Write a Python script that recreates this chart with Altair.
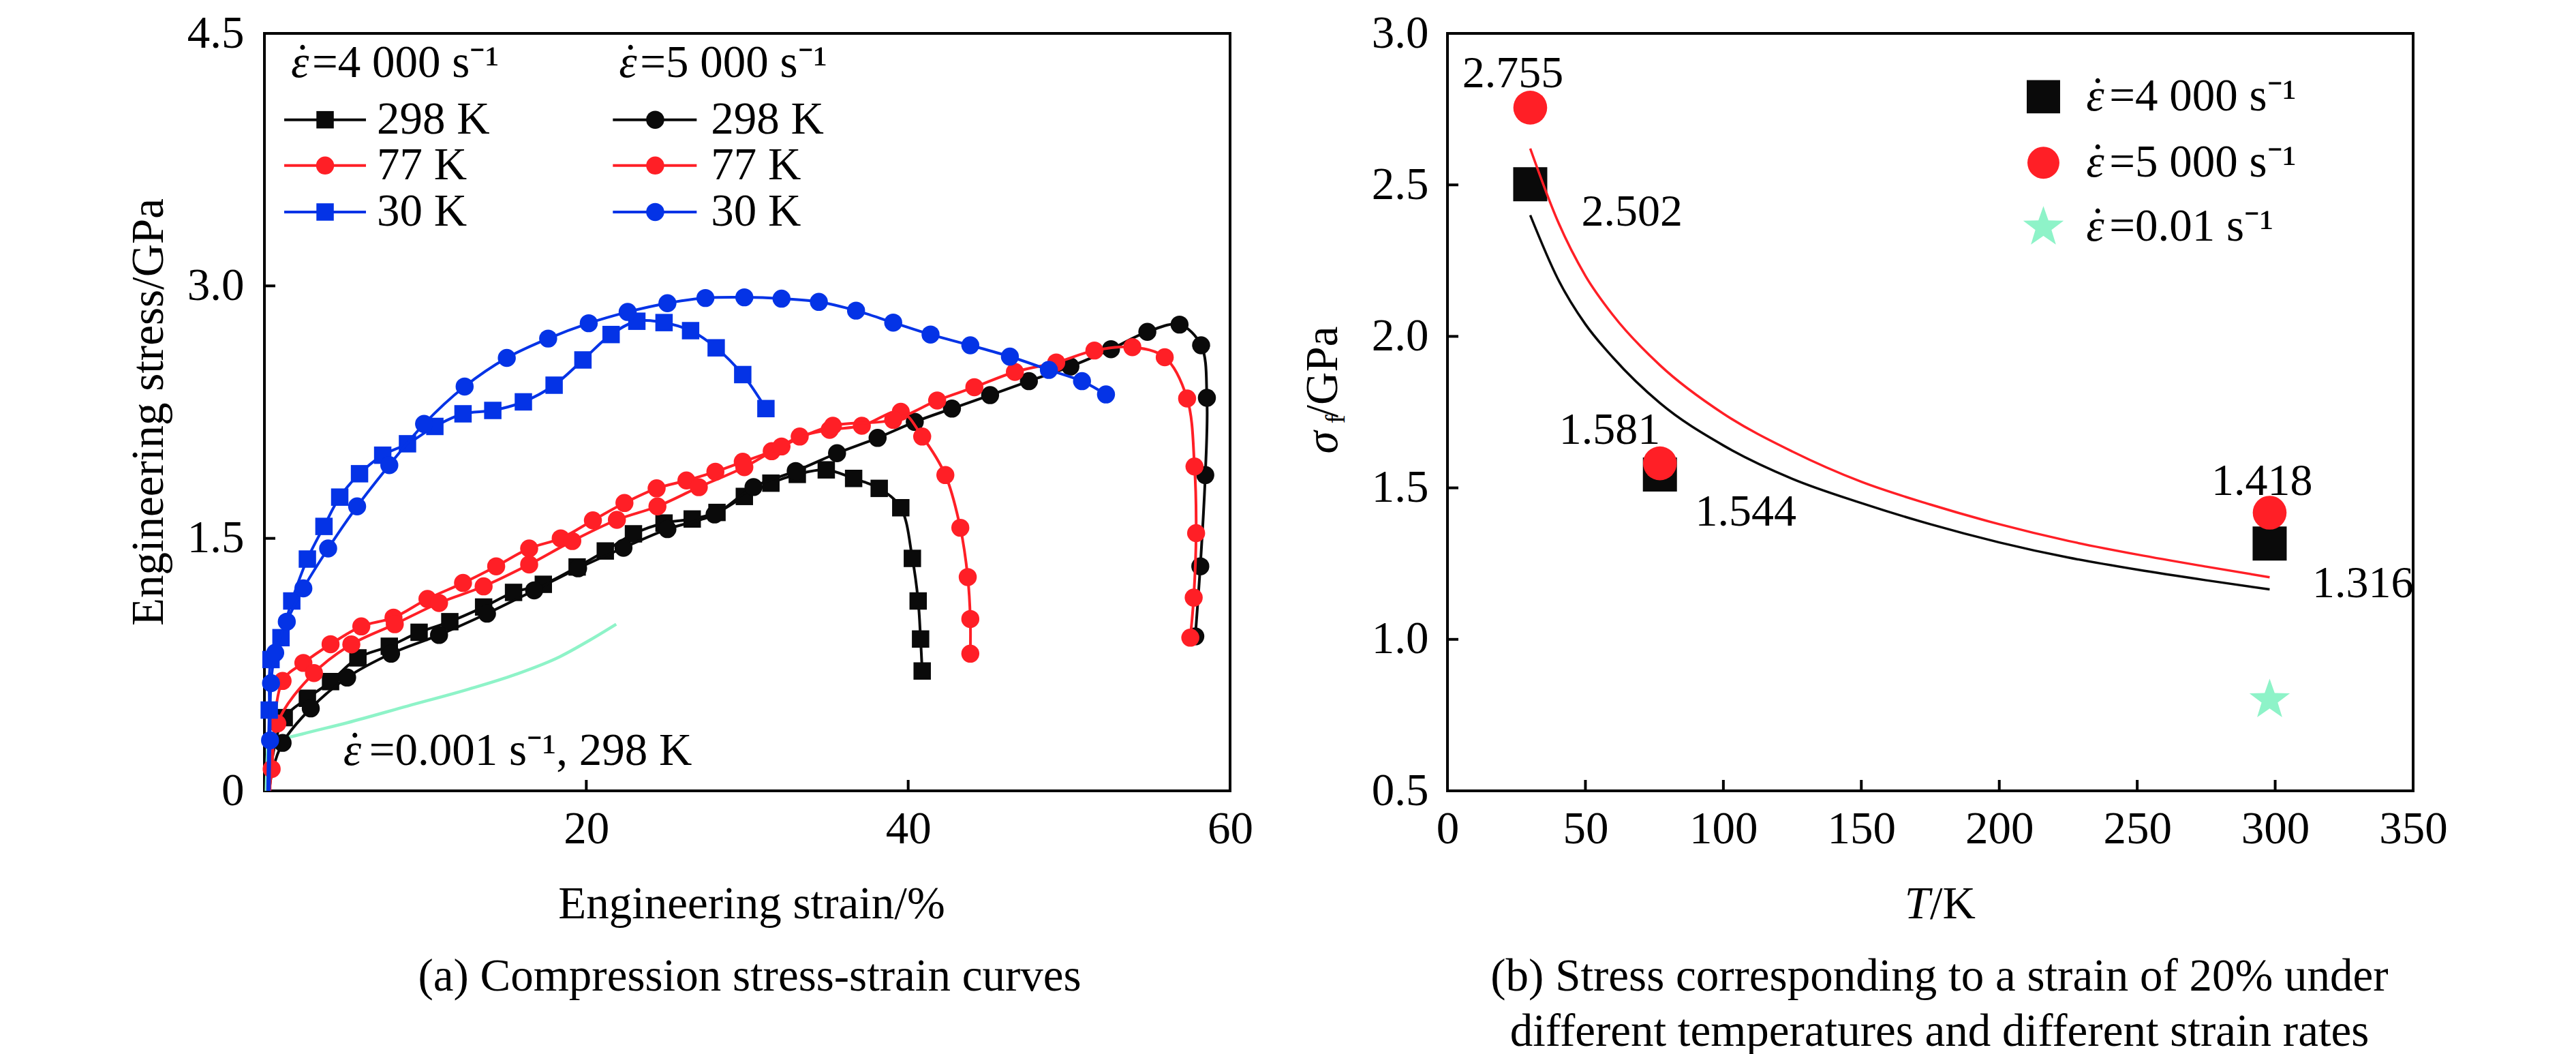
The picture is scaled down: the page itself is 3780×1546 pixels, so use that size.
import altair as alt
import pandas as pd

FONT = "Liberation Serif"
FS = 67
W = 1417
H = 1111
BLACK = "#0a0a0a"
RED = "#ff1f26"
BLUE = "#0433e6"
GREEN = "#8ef3c8"

# ---------------- Panel (a): stress-strain curves ----------------
# 4000 s-1, 298 K (squares)
b4_x = [0.3, 0.6, 1.23, 2.67, 4.11, 5.81, 7.76, 9.61, 11.52, 13.62, 15.48, 17.33, 19.43, 21.18,
        22.93, 24.83, 26.58, 28.12, 29.82, 31.47, 33.11, 34.91, 36.61, 38.2, 39.54, 40.26,
        40.62, 40.77, 40.87]
b4_y = [0.0, 0.25, 0.435, 0.55, 0.649, 0.79, 0.859, 0.942, 1.005, 1.092, 1.179, 1.227, 1.33, 1.425,
        1.527, 1.591, 1.615, 1.654, 1.749, 1.828, 1.88, 1.907, 1.856, 1.797, 1.682, 1.381,
        1.128, 0.902, 0.712]
# 5000 s-1, 298 K (circles)
b5_x = [0.3, 0.5, 1.13, 2.88, 5.14, 7.87, 10.85, 13.83, 16.76, 19.49, 22.31, 25.04, 27.97, 30.39,
        33.01, 35.58, 38.1, 40.41, 42.72, 45.09, 47.5, 50.08, 52.6, 54.86, 56.86, 58.2, 58.56,
        58.46, 58.15, 57.84]
b5_y = [0.0, 0.12, 0.285, 0.49, 0.673, 0.815, 0.926, 1.053, 1.191, 1.322, 1.444, 1.555, 1.642, 1.805,
        1.9, 2.006, 2.097, 2.192, 2.271, 2.351, 2.434, 2.521, 2.624, 2.727, 2.77, 2.647, 2.335,
        1.876, 1.334, 0.918]
# 4000 s-1, 77 K (circles)
r4_x = [0.3, 0.45, 1.13, 2.42, 4.11, 6.02, 8.02, 10.13, 12.34, 14.40, 16.45, 18.41, 20.41, 22.37,
        24.37, 26.22, 28.02, 29.72, 31.52, 33.26, 35.12, 37.12, 39.54, 40.87, 42.31, 43.24,
        43.7, 43.86, 43.86]
r4_y = [0.0, 0.13, 0.653, 0.76, 0.871, 0.977, 1.029, 1.14, 1.235, 1.334, 1.44, 1.50, 1.607, 1.71,
        1.797, 1.844, 1.896, 1.955, 2.018, 2.105, 2.145, 2.169, 2.252, 2.105, 1.876, 1.563,
        1.27, 1.021, 0.815]
# 5000 s-1, 77 K (circles)
r5_x = [0.35, 0.8, 3.08, 5.40, 8.1, 10.85, 13.62, 16.45, 19.13, 21.9, 24.42, 26.99, 29.82, 32.13,
        35.32, 39.07, 41.8, 44.11, 46.63, 49.2, 51.57, 53.93, 55.94, 57.33, 57.79, 57.89,
        57.74, 57.53]
r5_y = [0.0, 0.40, 0.70, 0.87, 0.99, 1.116, 1.215, 1.345, 1.484, 1.61, 1.69, 1.804, 1.923, 2.046,
        2.169, 2.204, 2.319, 2.398, 2.489, 2.545, 2.616, 2.636, 2.576, 2.331, 1.927, 1.531,
        1.148, 0.91]
# 4000 s-1, 30 K (squares)
u4_x = [0.2, 0.3, 0.41, 1.03, 1.70, 2.67, 3.70, 4.68, 5.91, 7.35, 8.89, 10.59, 12.34, 14.19,
        16.09, 18.0, 19.79, 21.54, 23.14, 24.83, 26.48, 28.07, 29.72, 31.16]
u4_y = [0.0, 0.48, 0.78, 0.91, 1.128, 1.377, 1.571, 1.745, 1.884, 1.994, 2.062, 2.165, 2.24, 2.26,
        2.311, 2.41, 2.56, 2.711, 2.79, 2.782, 2.734, 2.632, 2.473, 2.271]
# 5000 s-1, 30 K (circles)
u5_x = [0.3, 0.35, 0.41, 0.67, 1.39, 2.42, 3.96, 5.76, 7.76, 9.92, 12.44, 15.06, 17.63, 20.15,
        22.57, 25.04, 27.40, 29.82, 32.13, 34.45, 36.76, 39.07, 41.39, 43.86, 46.32, 48.74,
        50.8, 52.29]
u5_y = [0.0, 0.3, 0.64, 0.82, 1.005, 1.203, 1.44, 1.69, 1.935, 2.18, 2.402, 2.572, 2.687, 2.778,
        2.845, 2.897, 2.928, 2.932, 2.924, 2.905, 2.853, 2.782, 2.711, 2.647, 2.580, 2.501,
        2.434, 2.355]
# 0.001 s-1, 298 K (quasi-static)
g_x = [0.11, 0.21, 0.58, 2.29, 5.13, 8.9, 12.69, 15.53, 18.36, 20.25, 21.86]
g_y = [0.0, 0.274, 0.29, 0.336, 0.404, 0.504, 0.604, 0.689, 0.797, 0.897, 0.99]

legend_rows = ["298 K", "77 K", "30 K"]

# ---------------- Panel (b): stress at 20% strain ----------------
T_pts = [30, 77, 298]
s_4000 = [2.502, 1.544, 1.316]
s_5000 = [2.755, 1.581, 1.418]
T_qs = [298]
s_qs = [0.80]
T_fit = [30, 40, 50, 60, 77, 100, 125, 150, 175, 200, 225, 250, 275, 298]
fit_4000 = [2.40, 2.19, 2.04, 1.93, 1.78, 1.64, 1.53, 1.45, 1.38, 1.32, 1.27, 1.23, 1.195, 1.165]
fit_5000 = [2.62, 2.38, 2.20, 2.07, 1.905, 1.745, 1.62, 1.52, 1.445, 1.38, 1.325, 1.28, 1.24, 1.205]

STAR = ("M0,-1L0.235,-0.324L0.951,-0.309L0.380,0.124L0.588,0.809L0,0.4L-0.588,0.809"
        "L-0.380,0.124L-0.951,-0.309L-0.235,-0.324Z")


def axis(values, expr, pad, baseline=None):
    kw = dict(values=values, labelExpr=expr, title=None, ticks=False, tickSize=0, domain=False,
              grid=False, labelFont=FONT, labelFontSize=FS, labelColor="black", labelPadding=pad,
              labelFlush=False, labelOverlap=False)
    if baseline:
        kw["labelBaseline"] = baseline
    return alt.Axis(**kw)


AX_A_X = axis([0, 20, 40, 60], "datum.value == 0 ? '' : datum.label", 56, "middle")
AX_A_Y = axis([0, 1.5, 3.0, 4.5], "datum.value == 0 ? '0' : format(datum.value, '.1f')", 30)
AX_B_X = axis([0, 50, 100, 150, 200, 250, 300, 350], "format(datum.value, 'd')", 56, "middle")
AX_B_Y = axis([0.5, 1.0, 1.5, 2.0, 2.5, 3.0], "format(datum.value, '.1f')", 28)


def ax_(panel):
    if panel == "a":
        return alt.X("x:Q", scale=alt.Scale(domain=[0, 60], nice=False, zero=False), axis=AX_A_X)
    return alt.X("x:Q", scale=alt.Scale(domain=[0, 350], nice=False, zero=False), axis=AX_B_X)


def ay_(panel):
    if panel == "a":
        return alt.Y("y:Q", scale=alt.Scale(domain=[0, 4.5], nice=False, zero=False), axis=AX_A_Y)
    return alt.Y("y:Q", scale=alt.Scale(domain=[0.5, 3.0], nice=False, zero=False), axis=AX_B_Y)


def curve(panel, xs, ys, color, interp="catmull-rom", width=4):
    df = pd.DataFrame({"x": xs, "y": ys, "i": list(range(len(xs)))})
    return alt.Chart(df).mark_line(interpolate=interp, strokeWidth=width, color=color).encode(
        x=ax_(panel), y=ay_(panel), order="i:Q")


def marks(panel, xs, ys, color, shape, size, skip=0):
    df = pd.DataFrame({"x": xs[skip:], "y": ys[skip:]})
    return alt.Chart(df).mark_point(filled=True, shape=shape, size=size, color=color, opacity=1,
                                    strokeWidth=0).encode(x=ax_(panel), y=ay_(panel))


def label(panel, x, y, text, align="left", size=FS, style="normal", dx=0, dy=0,
          baseline="middle"):
    df = pd.DataFrame({"x": [x], "y": [y], "t": [text]})
    return alt.Chart(df).mark_text(font=FONT, fontSize=size, fontStyle=style, align=align,
                                   baseline=baseline, dx=dx, dy=dy, color="black").encode(
        x=ax_(panel), y=ay_(panel), text="t:N")


def epsdot(panel, x, y, rest, gap):
    """italic epsilon with a dot above, followed by the upright rest of the text"""
    return [
        label(panel, x, y, "ε", style="italic"),
        label(panel, x, y, "\u02d9", align="center", dx=17, dy=-2),
        label(panel, x, y, rest, dx=gap),
    ]


def ptext(text, px, py, align="center", size=FS, style="normal", angle=0, baseline="middle"):
    df = pd.DataFrame({"t": [text]})
    kw = dict(font=FONT, fontSize=size, fontStyle=style, align=align, baseline=baseline,
              color="black")
    if angle:
        kw["angle"] = angle
    return alt.Chart(df).mark_text(**kw).encode(text="t:N", x=alt.value(px), y=alt.value(py))


def vticks(panel, vals):
    df = pd.DataFrame({"x": vals})
    return alt.Chart(df).mark_rule(color="black", strokeWidth=4).encode(
        x=ax_(panel), y=alt.value(H), y2=alt.value(H - 16))


def hticks(panel, vals):
    df = pd.DataFrame({"y": vals})
    return alt.Chart(df).mark_rule(color="black", strokeWidth=4).encode(
        y=ay_(panel), x=alt.value(0), x2=alt.value(16))


SQ_A, CI_A = 650, 700

layers_a = [
    vticks("a", [20, 40]),
    hticks("a", [1.5, 3.0]),
    curve("a", g_x, g_y, GREEN, interp="monotone", width=4.5),
]
series_a = [
    (b4_x, b4_y, BLACK, "square", SQ_A, 2),
    (b5_x, b5_y, BLACK, "circle", CI_A, 2),
    (r4_x, r4_y, RED, "circle", CI_A, 1),
    (r5_x, r5_y, RED, "circle", CI_A, 1),
    (u4_x, u4_y, BLUE, "square", SQ_A, 1),
    (u5_x, u5_y, BLUE, "circle", CI_A, 1),
]
for xs, ys, col, shp, sz, skip in series_a:
    layers_a.append(curve("a", xs, ys, col))
    layers_a.append(marks("a", xs, ys, col, shp, sz, skip))

# legend of panel (a)
row_y = [3.987, 3.715, 3.439]
row_col = [BLACK, RED, BLUE]
shapes_4000 = ["square", "circle", "square"]
for j, name in enumerate(legend_rows):
    for (x1, x2, xm, xt, shp) in [(1.23, 6.31, 3.77, 6.99, shapes_4000[j]),
                                  (21.65, 26.86, 24.28, 27.75, "circle")]:
        ldf = pd.DataFrame({"x": [x1], "x2": [x2], "y": [row_y[j]]})
        layers_a.append(alt.Chart(ldf).mark_rule(color=row_col[j], strokeWidth=4).encode(
            x=ax_("a"), x2="x2:Q", y=ay_("a")))
        layers_a.append(marks("a", [xm], [row_y[j]], row_col[j], shp,
                              SQ_A if shp == "square" else CI_A))
        layers_a.append(label("a", xt, row_y[j], name))
for xh, rate in [(1.65, "4 000"), (22.03, "5 000")]:
    layers_a += epsdot("a", xh, 4.323, "=" + rate + " s\u207b\u00b9", 31)
layers_a += epsdot("a", 4.9, 0.236, "=0.001 s\u207b\u00b9, 298 K", 38)

layers_a += [
    ptext("Engineering stress/GPa", -169, H / 2, angle=270),
    ptext("Engineering strain/%", 715, H + 167),
    ptext("(a) Compression stress-strain curves", 712, H + 273),
]
panel_a = alt.layer(*layers_a).properties(width=W, height=H)

# ---------------- panel (b) layers ----------------
layers_b = [
    vticks("b", [50, 100, 150, 200, 250, 300]),
    hticks("b", [1.0, 1.5, 2.0, 2.5]),
    marks("b", T_pts, s_4000, BLACK, "square", 2500),
    marks("b", T_pts, s_5000, RED, "circle", 2463),
    marks("b", T_qs, s_qs, GREEN, STAR, 3900),
    curve("b", T_fit, fit_4000, BLACK, interp="monotone", width=3.5),
    curve("b", T_fit, fit_5000, RED, interp="monotone", width=3.5),
]
# value labels
lab_T = [23.7, 66.9, 58.8, 108.1, 295.2, 331.8]
lab_s = [2.867, 2.411, 1.691, 1.42, 1.522, 1.184]
lab_v = [s_5000[0], s_4000[0], s_5000[1], s_4000[1], s_5000[2], s_4000[2]]
for t, s, v in zip(lab_T, lab_s, lab_v):
    layers_b.append(label("b", t, s, f"{v:.3f}", align="center", size=66))

# legend of panel (b)
leg_T, leg_txt = 216, 231.5
layers_b += [
    marks("b", [leg_T], [2.791], BLACK, "square", 2400),
    marks("b", [leg_T], [2.573], RED, "circle", 2206),
    marks("b", [leg_T], [2.36], GREEN, STAR, 3900),
]
for yy, rate in [(2.791, "4 000"), (2.573, "5 000"), (2.36, "0.01")]:
    layers_b += epsdot("b", leg_txt, yy, "=" + rate + " s\u207b\u00b9", 34)

mid = H / 2
layers_b += [
    ptext("σ", -162, mid + 61, align="left", style="italic", angle=270, baseline="alphabetic"),
    ptext("f", -151, mid + 17, align="left", size=40, angle=270, baseline="alphabetic"),
    ptext("/GPa", -162, mid + 8, align="left", angle=270, baseline="alphabetic"),
    ptext("T", 708, H + 167, align="right", style="italic"),
    ptext("/K", 708, H + 167, align="left"),
    ptext("(b) Stress corresponding to a strain of 20% under", 722, H + 273),
    ptext("different temperatures and different strain rates", 722, H + 354),
]
panel_b = alt.layer(*layers_b).properties(width=W, height=H)

chart = alt.hconcat(panel_a, panel_b, spacing=319, bounds="flush").properties(
    padding={"left": 175, "top": 5, "right": 20, "bottom": 0}, background="white"
).configure_view(stroke="black", strokeWidth=4)

chart.save("out.html", embed_options={"renderer": "svg", "actions": False})
